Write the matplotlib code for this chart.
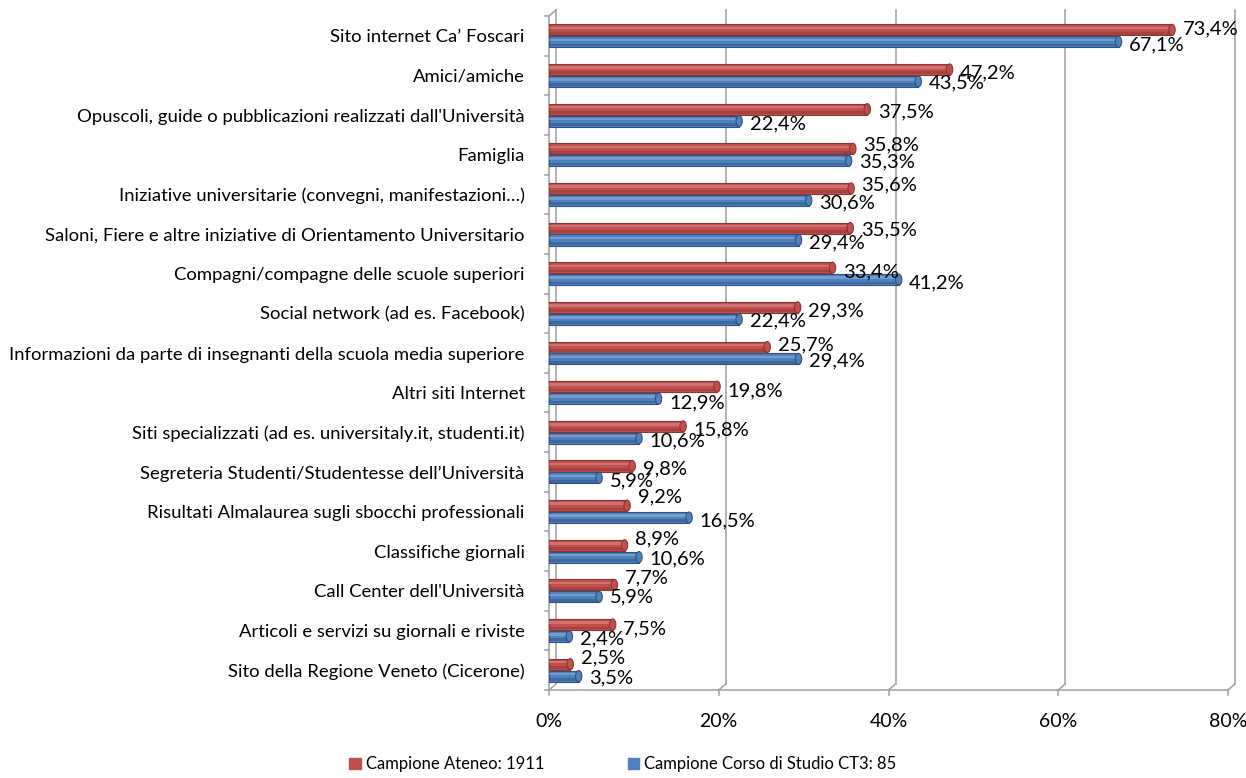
import numpy as np
import matplotlib.pyplot as plt
import matplotlib.transforms as mtransforms
from matplotlib.patches import Patch, Ellipse

plt.rcParams['font.family'] = ['Lato', 'DejaVu Sans']

# ======================
# data
# ======================
categories = [
    "Sito internet Ca\u2019 Foscari",
    "Amici/amiche",
    "Opuscoli, guide o pubblicazioni realizzati dall'Universit\u00e0",
    "Famiglia",
    "Iniziative universitarie (convegni, manifestazioni\u2026)",
    "Saloni, Fiere e altre iniziative di Orientamento Universitario",
    "Compagni/compagne delle scuole superiori",
    "Social network (ad es. Facebook)",
    "Informazioni da parte di insegnanti della scuola media superiore",
    "Altri siti Internet",
    "Siti specializzati (ad es. universitaly.it, studenti.it)",
    "Segreteria Studenti/Studentesse dell\u2019Universit\u00e0",
    "Risultati Almalaurea sugli sbocchi professionali",
    "Classifiche giornali",
    "Call Center dell'Universit\u00e0",
    "Articoli e servizi su giornali e riviste",
    "Sito della Regione Veneto (Cicerone)",
]
ateneo = [73.4, 47.2, 37.5, 35.8, 35.6, 35.5, 33.4, 29.3, 25.7, 19.8,
          15.8, 9.8, 9.2, 8.9, 7.7, 7.5, 2.5]
corso = [67.1, 43.5, 22.4, 35.3, 30.6, 29.4, 41.2, 22.4, 29.4, 12.9,
         10.6, 5.9, 16.5, 10.6, 5.9, 2.4, 3.5]
x_ticks = [0, 20, 40, 60, 80]
legend_labels = ["Campione Ateneo: 1911", "Campione Corso di Studio CT3: 85"]

# label nudges in pixels (down = positive), as placed in the original
red_dy = [-1, 3, 3, -4, -4, 2, 4, 3, -2, 4, 4, 3, -9, -6, -7, 4, -6]
blue_dy = [3, 1, 3, 1, 3, 3, 3, 2, 2, 4, 3, 3, 3, 2, 0, 2, 2]

red, red_dark, red_light = "#C0504D", "#8E3431", "#DA8A88"
blue, blue_dark, blue_light = "#4F81BD", "#2E5283", "#8DB0DB"

# ======================
# figure
# ======================
fig = plt.figure(figsize=(12.46, 7.78), dpi=100)
ax = fig.add_axes([549 / 1246, 1 - 690 / 778, (1228 - 549) / 1246, (690 - 16) / 778])
ax.set_xlim(0, 80)
ax.set_ylim(len(categories) - 0.5, -0.5)
for s in ax.spines.values():
    s.set_visible(False)
ax.tick_params(left=False, bottom=False)

# back wall offset (pseudo 3D)
back = ax.transData + mtransforms.ScaledTranslation(7 / 100, 6 / 100, fig.dpi_scale_trans)
y0, y1 = len(categories) - 0.5, -0.5
gc = "#A6A6A6"
for xv in x_ticks:
    ax.plot([xv, xv], [y0, y1], color=gc, lw=1.2, transform=back, clip_on=False, zorder=0)
# floor / side diagonals
for xv in x_ticks:
    p0 = ax.transData.transform((xv, y0))
    p1 = back.transform((xv, y0))
    fig.add_artist(plt.Line2D([p0[0], p1[0]], [p0[1], p1[1]], color=gc, lw=1.2,
                              transform=None))
p0 = ax.transData.transform((0, y1))
p1 = back.transform((0, y1))
fig.add_artist(plt.Line2D([p0[0], p1[0]], [p0[1], p1[1]], color=gc, lw=1.2, transform=None))
ax.plot([0, 80], [y0, y0], color=gc, lw=1.2, clip_on=False)
ax.plot([0, 0], [y0, y1], color=gc, lw=1.2, clip_on=False)
# tick marks
for b in np.arange(-0.5, len(categories), 1.0):
    ax.plot([-0.5, 0], [b, b], color=gc, lw=1.2, clip_on=False)
for xv in x_ticks:
    ax.plot([xv, xv], [y0, y0 + 0.12], color=gc, lw=1.2, clip_on=False)

# bars
y = np.arange(len(categories))
h = 0.28
off = 0.15
cap_w = 0.75  # data units of the rounded end


def cyl(vals, pos, c, cd, cl):
    ax.barh(pos, vals, height=h, color=c, edgecolor=cd, linewidth=0.8, zorder=3)
    ax.barh(pos - h * 0.18, vals, height=h * 0.22, color=cl, linewidth=0, zorder=4, alpha=0.6)
    ax.barh(pos + h * 0.3, vals, height=h * 0.25, color=cd, linewidth=0, zorder=4, alpha=0.5)
    for v, p in zip(vals, pos):
        ax.add_patch(Ellipse((v, p), cap_w, h, facecolor=c, edgecolor=cd,
                             linewidth=0.8, zorder=5))


cyl(ateneo, y - off, red, red_dark, red_light)
cyl(corso, y + off, blue, blue_dark, blue_light)


def fmt(v):
    return f"{v:.1f}%".replace(".", ",")


for yi, a, c, dr, db in zip(y, ateneo, corso, red_dy, blue_dy):
    ax.annotate(fmt(a), (a, yi - off), xytext=(7.5, -dr * 0.72), textcoords="offset points",
                ha="left", va="center", fontsize=14.5, zorder=6)
    ax.annotate(fmt(c), (c, yi + off), xytext=(7.5, -db * 0.72), textcoords="offset points",
                ha="left", va="center", fontsize=14.5, zorder=6)

# category labels
ax.set_yticks(y)
ax.set_yticklabels(categories, fontsize=13.3)
ax.tick_params(axis="y", pad=14)
ax.set_xticks(x_ticks)
ax.set_xticklabels([f"{t}%" for t in x_ticks], fontsize=14)
ax.tick_params(axis="x", pad=13)

# legend
handles = [Patch(color=red), Patch(color=blue)]
fig.legend(handles, legend_labels, loc="lower center", bbox_to_anchor=(0.5, -0.012),
           ncol=2, frameon=False, fontsize=12, handlelength=0.7, handleheight=0.7,
           handletextpad=0.3, columnspacing=5)

fig.savefig("out.png", dpi=100)
